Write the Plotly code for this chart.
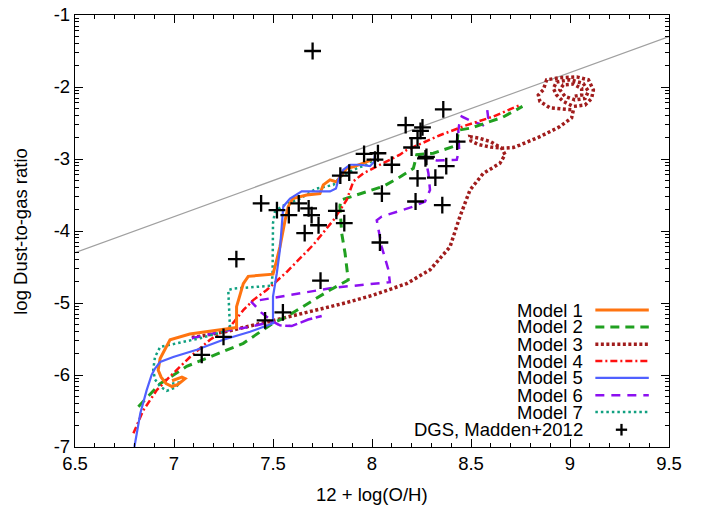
import math
import plotly.graph_objects as go

# ---------------- data ----------------
dgs_x = [7.70, 7.96, 8.03, 8.015, 7.84, 7.885, 8.05, 7.44, 7.52, 7.58, 7.63, 7.68, 7.695, 7.82, 7.86,
         7.73, 7.66, 8.04, 8.36, 8.17, 8.255, 8.245, 8.23, 8.20, 8.43, 8.275, 8.27, 8.10, 8.375, 8.23,
         8.32, 8.22, 8.355, 7.315, 7.74, 7.55, 7.46, 7.25, 7.14]
dgs_y = [-1.50, -2.93, -2.92, -3.01, -3.23, -3.19, -3.48, -3.615, -3.71, -3.78, -3.615, -3.685, -3.78, -3.72, -3.89,
         -3.92, -4.03, -4.16, -2.31, -2.53, -2.56, -2.61, -2.71, -2.84, -2.76, -2.97, -2.99, -3.08, -3.10, -3.27,
         -3.26, -3.59, -3.64, -4.39, -4.69, -5.13, -5.24, -5.47, -5.72]

m1_x = [6.99, 7.04, 7.056, 7.02, 6.99, 6.96, 6.935, 6.92, 6.93, 6.955, 6.98, 7.08, 7.23, 7.316, 7.316, 7.35,
        7.375, 7.50, 7.519, 7.535, 7.561, 7.577, 7.60, 7.67, 7.737, 7.754, 7.788, 7.821, 7.838, 7.872, 7.906,
        7.939, 7.973, 7.998]
m1_y = [-6.08, -6.03, -6.05, -6.13, -6.16, -6.12, -6.03, -5.93, -5.77, -5.63, -5.51, -5.43, -5.37, -5.34, -5.05, -4.73,
        -4.63, -4.60, -4.40, -4.22, -3.85, -3.66, -3.55, -3.50, -3.48, -3.36, -3.29, -3.32, -3.25, -3.13, -3.11,
        -3.08, -3.04, -3.01]

m2_x = [6.82, 6.93, 7.064, 7.182, 7.35, 7.50, 7.569, 7.704, 7.788, 7.88, 7.864, 7.847, 7.838, 7.842, 7.939, 8.057,
        8.141, 8.209, 8.226, 8.31, 8.428, 8.436, 8.50, 8.58, 8.66, 8.70, 8.76]
m2_y = [-6.44, -6.12, -5.88, -5.75, -5.56, -5.28, -5.19, -4.96, -4.82, -4.68, -4.31, -4.03, -3.66, -3.57, -3.48, -3.38,
        -3.25, -3.13, -2.94, -2.92, -2.81, -2.60, -2.57, -2.50, -2.42, -2.36, -2.27]

m3_x = [7.09, 7.258, 7.476, 7.678, 7.864, 8.007, 8.175, 8.293, 8.394, 8.444, 8.495, 8.562, 8.646, 8.672, 8.655,
        8.60, 8.54, 8.495, 8.50, 8.54, 8.60, 8.66, 8.714, 8.747, 8.848, 8.949, 9.008, 9.017, 8.966, 8.899, 8.848,
        8.84, 8.865, 8.882, 8.949, 9.034, 9.093, 9.118, 9.109, 9.076, 9.017, 8.966, 8.932, 8.916, 8.932, 9.0,
        9.067, 9.093, 9.076, 9.025, 8.975, 8.949, 8.966, 9.017, 9.059, 9.059, 9.017]
m3_y = [-5.48, -5.40, -5.26, -5.13, -5.0, -4.89, -4.73, -4.54, -4.22, -3.80, -3.43, -3.20, -3.06, -2.94, -2.85,
        -2.76, -2.71, -2.69, -2.75, -2.80, -2.835, -2.85, -2.84, -2.806, -2.69, -2.55, -2.43, -2.32, -2.31, -2.29, -2.20,
        -2.11, -2.04, -1.90, -1.87, -1.86, -1.90, -2.04, -2.16, -2.25, -2.27, -2.20, -2.11, -2.02, -1.93, -1.90,
        -1.95, -2.06, -2.16, -2.18, -2.13, -2.04, -1.97, -1.96, -2.02, -2.11, -2.13]

m4_x = [6.795, 6.845, 6.913, 6.98, 7.081, 7.182, 7.283, 7.35, 7.40, 7.468, 7.569, 7.704, 7.805, 7.872, 7.906,
        7.956, 8.04, 8.141, 8.175, 8.343, 8.478, 8.613, 8.73, 8.75]
m4_y = [-6.81, -6.49, -6.21, -6.02, -5.75, -5.51, -5.33, -5.10, -4.96, -4.82, -4.57, -4.19, -3.85, -3.57, -3.31,
        -3.20, -3.08, -2.94, -2.875, -2.67, -2.53, -2.41, -2.27, -2.25]

m5_x = [6.80, 6.83, 6.862, 6.887, 6.904, 6.93, 6.996, 7.115, 7.249, 7.384, 7.50, 7.50, 7.519, 7.535, 7.544, 7.552,
        7.586, 7.645, 7.72, 7.788, 7.818, 7.83, 7.855, 7.889, 7.94, 7.99, 8.01, 8.015]
m5_y = [-7.0, -6.53, -6.21, -6.0, -5.91, -5.82, -5.75, -5.65, -5.51, -5.40, -5.28, -4.91, -4.59, -4.26, -3.94, -3.66,
        -3.55, -3.45, -3.45, -3.45, -3.41, -3.29, -3.15, -3.08, -3.08, -3.10, -3.04, -2.94]

m6_x = [7.09, 7.232, 7.384, 7.50, 7.535, 7.594, 7.678, 7.746, 7.678, 7.594, 7.535, 7.50, 7.44, 7.39, 7.60, 7.80,
        8.09, 8.083, 8.049, 8.024, 8.049, 8.209, 8.268, 8.293, 8.285, 8.268, 8.327, 8.428, 8.44, 8.436, 8.444,
        8.453, 8.50, 8.561, 8.587, 8.582]
m6_y = [-5.49, -5.40, -5.33, -5.26, -5.31, -5.32, -5.23, -5.18, -5.23, -5.32, -5.31, -5.26, -5.13, -4.98, -4.88, -4.79,
        -4.71, -4.54, -4.22, -3.85, -3.80, -3.66, -3.59, -3.43, -3.20, -2.97, -3.02, -3.01, -2.875, -2.60, -2.46,
        -2.41, -2.47, -2.53, -2.43, -2.32]

m7_x = [6.99, 7.03, 7.01, 6.963, 6.93, 6.904, 6.895, 6.904, 6.93, 7.013, 7.131, 7.249, 7.283, 7.274, 7.30, 7.493,
        7.498, 7.50, 7.51, 7.544, 7.577, 7.636, 7.72, 7.805, 7.838, 7.872, 7.923, 7.973, 8.007]
m7_y = [-6.12, -6.10, -6.17, -6.22, -6.16, -6.06, -5.93, -5.75, -5.61, -5.56, -5.49, -5.40, -5.35, -4.82, -4.80, -4.76,
        -4.59, -3.89, -3.73, -3.66, -3.615, -3.55, -3.41, -3.36, -3.25, -3.20, -3.13, -3.08, -3.01]

ref_x = [6.5, 9.5]
ref_y = [-4.3, -1.3]

x_ticks = [6.5, 7, 7.5, 8, 8.5, 9, 9.5]
x_tick_labels = ["6.5", "7", "7.5", "8", "8.5", "9", "9.5"]
y_ticks = [-7, -6, -5, -4, -3, -2, -1]
y_tick_labels = ["-7", "-6", "-5", "-4", "-3", "-2", "-1"]

series_names = ["Model 1", "Model 2", "Model 3", "Model 4", "Model 5", "Model 6", "Model 7"]
series_x = [m1_x, m2_x, m3_x, m4_x, m5_x, m6_x, m7_x]
series_y = [m1_y, m2_y, m3_y, m4_y, m5_y, m6_y, m7_y]
points_name = "DGS, Madden+2012"
x_title = "12 + log(O/H)"
y_title = "log Dust-to-gas ratio"

# ---------------- styles ----------------
styles = [
    dict(color="#ff7410", width=3.0, dash="solid"),
    dict(color="#20a020", width=3.0, dash="9px,6px"),
    dict(color="#a01c1c", width=3.5, dash="3px,2.5px"),
    dict(color="#ff1010", width=2.5, dash="7px,3px,2px,3px"),
    dict(color="#5060ff", width=2.2, dash="solid"),
    dict(color="#8c10f0", width=2.5, dash="9px,7px"),
    dict(color="#10a080", width=2.5, dash="2.5px,3px"),
]
FONT = "Liberation Sans, Arial, Helvetica, sans-serif"
FS = 18.5

fig = go.Figure()

fig.add_trace(go.Scatter(x=ref_x, y=ref_y, mode="lines",
                         line=dict(color="#a0a0a0", width=1.2), showlegend=False, hoverinfo="skip"))

draw_order = [2, 5, 1, 3, 6, 0, 4]
for i in draw_order:
    st = styles[i]
    fig.add_trace(go.Scatter(x=series_x[i], y=series_y[i], mode="lines", name=series_names[i],
                             line=dict(color=st["color"], width=st["width"], dash=st["dash"]),
                             showlegend=False))

fig.add_trace(go.Scatter(x=dgs_x, y=dgs_y, mode="markers", name=points_name,
                         marker=dict(symbol="cross-thin", size=12, line=dict(color="black", width=2.3)),
                         showlegend=False))

# invisible helpers so the minor-tick overlay axes are drawn
for ax in ("y2", "y3"):
    fig.add_trace(go.Scatter(x=[6.5], y=[-7], yaxis=ax, mode="markers", marker=dict(opacity=0),
                             showlegend=False, hoverinfo="skip"))

# log-style minor ticks as drawn by the original (axis decoration)
minor_y = []
for n in range(-7, -1):
    for k in range(2, 10):
        minor_y.append(n + math.log10(k))

axis_common = dict(showline=True, linecolor="black", linewidth=1.3, mirror="ticks",
                   ticks="inside", ticklen=8, tickwidth=1.2, tickcolor="black",
                   showgrid=False, zeroline=False, automargin=False, ticklabeloverflow="allow",
                   tickfont=dict(family=FONT, size=FS, color="black"))

fig.update_layout(
    xaxis=dict(range=[6.5, 9.5], tickmode="array", tickvals=x_ticks, ticktext=x_tick_labels,
               minor=dict(dtick=0.1, tick0=6.5, ticks="inside", ticklen=4, tickwidth=1, tickcolor="black"),
               **axis_common),
    yaxis=dict(range=[-7, -1], tickmode="array", tickvals=y_ticks, ticktext=y_tick_labels, **axis_common),
    yaxis2=dict(overlaying="y", side="left", anchor="x", range=[-7, -1], tickmode="array", tickvals=minor_y,
                ticks="inside", ticklen=4, tickwidth=1, tickcolor="black", showticklabels=False,
                showline=False, showgrid=False, zeroline=False, automargin=False),
    yaxis3=dict(overlaying="y", side="right", anchor="x", range=[-7, -1], tickmode="array", tickvals=minor_y,
                ticks="inside", ticklen=4, tickwidth=1, tickcolor="black", showticklabels=False,
                showline=False, showgrid=False, zeroline=False, automargin=False),
)

# axis titles
fig.add_annotation(x=0.5, y=-0.111, xref="paper", yref="paper", text=x_title, showarrow=False,
                   xanchor="center", yanchor="middle", font=dict(family=FONT, size=FS, color="black"))
fig.add_annotation(x=-0.093, y=0.5, xref="paper", yref="paper", text=y_title, showarrow=False,
                   textangle=-90, xanchor="center", yanchor="middle",
                   font=dict(family=FONT, size=FS, color="black"))

# key placed like the original (text right-aligned, sample to its right)
row_y = [0.317, 0.278, 0.238, 0.199, 0.160, 0.120, 0.081, 0.040]
text_x = 0.857
line_x0, line_x1 = 0.876, 0.966
for i in range(7):
    st = styles[i]
    fig.add_annotation(x=text_x, y=row_y[i], xref="paper", yref="paper", text=series_names[i],
                       showarrow=False, xanchor="right", yanchor="middle", borderpad=0,
                       font=dict(family=FONT, size=FS, color="black"))
    fig.add_shape(type="line", xref="paper", yref="paper", x0=line_x0, x1=line_x1, y0=row_y[i], y1=row_y[i],
                  line=dict(color=st["color"], width=st["width"], dash=st["dash"]))
fig.add_annotation(x=text_x, y=row_y[7], xref="paper", yref="paper", text=points_name,
                   showarrow=False, xanchor="right", yanchor="middle", borderpad=0,
                   font=dict(family=FONT, size=FS, color="black"))
cx, cy = 0.92, row_y[7]
fig.add_shape(type="line", xref="paper", yref="paper", x0=cx - 0.0095, x1=cx + 0.0095, y0=cy, y1=cy,
              line=dict(color="black", width=2.3))
fig.add_shape(type="line", xref="paper", yref="paper", x0=cx, x1=cx, y0=cy - 0.0135, y1=cy + 0.0135,
              line=dict(color="black", width=2.3))

fig.update_layout(width=702, height=513, margin=dict(l=75, r=33, t=15, b=66, autoexpand=False),
                  plot_bgcolor="white", paper_bgcolor="white", showlegend=False,
                  font=dict(family=FONT, size=FS, color="black"))

# remove the page's default body margin so the figure sits at the window's top-left corner
fig.write_html("out.html", config={"displayModeBar": False},
               post_script="document.body.style.margin='0px';")
